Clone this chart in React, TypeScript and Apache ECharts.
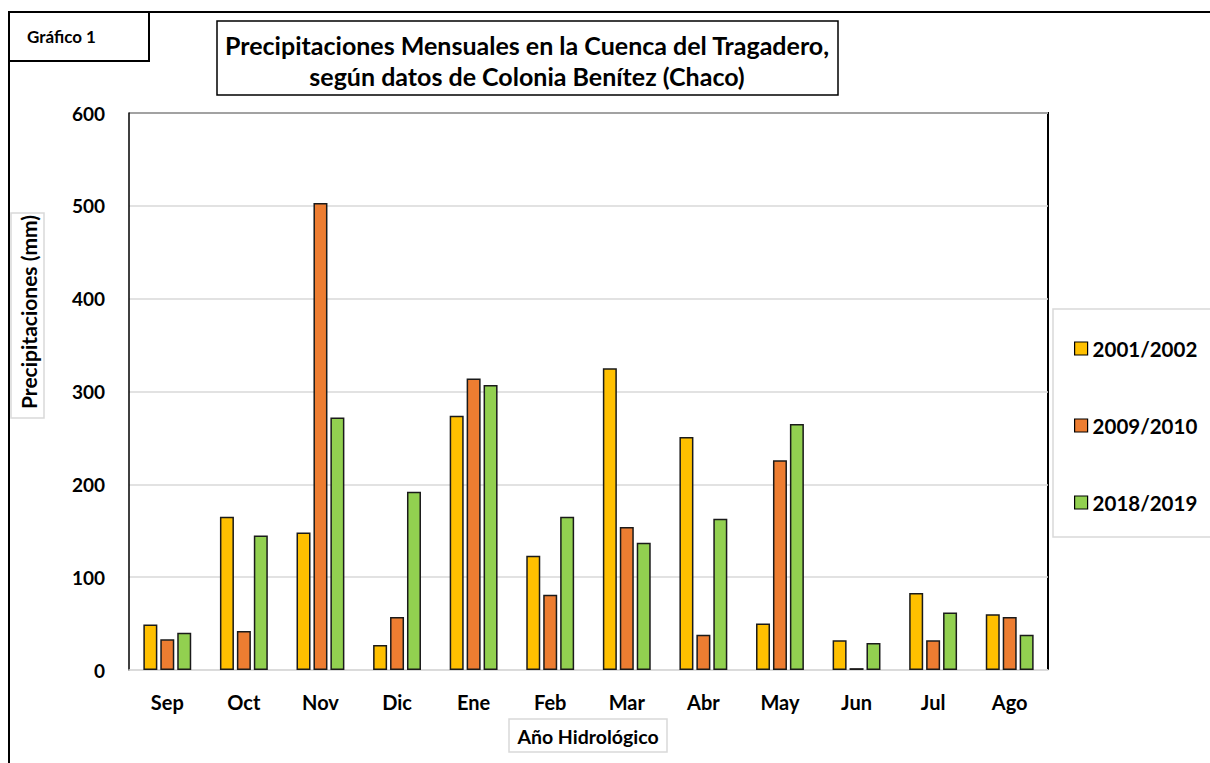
import React, { useEffect, useRef } from "react";
import * as echarts from "echarts";

const months = ["Sep", "Oct", "Nov", "Dic", "Ene", "Feb", "Mar", "Abr", "May", "Jun", "Jul", "Ago"];
const seriesNames = ["2001/2002", "2009/2010", "2018/2019"];
const s2001 = [49, 165, 148, 27, 274, 123, 325, 251, 50, 32, 83, 60];
const s2009 = [33, 42, 503, 57, 314, 81, 154, 38, 226, 2, 32, 57];
const s2018 = [40, 145, 272, 192, 307, 165, 137, 163, 265, 29, 62, 38];
const colors = ["#FFC000", "#ED7D31", "#92D050"];
const yTicks = { min: 0, max: 600, interval: 100 };

const FONT = "Lato, 'Open Sans', sans-serif";

export default function App() {
  const ref = useRef<HTMLDivElement>(null);
  useEffect(() => {
    if (!ref.current) return;
    const chart = echarts.init(ref.current, null, { renderer: "svg" });
    const data = [s2001, s2009, s2018];
    chart.setOption({
      animation: false,
      backgroundColor: "#ffffff",
      textStyle: { fontFamily: FONT },
      grid: { left: 129, top: 113, right: 162, bottom: 93, containLabel: false },
      legend: {
        orient: "vertical",
        left: 1069,
        top: 333,
        itemWidth: 13,
        itemHeight: 13,
        itemGap: 56,
        icon: "rect",
        data: seriesNames,
        textStyle: { fontFamily: FONT, fontWeight: "bold", fontSize: 20.5, color: "#000", lineHeight: 20 },
        itemStyle: { borderColor: "#000", borderWidth: 1.2 },
      },
      xAxis: {
        type: "category",
        data: months,
        axisLine: { show: true, lineStyle: { color: "#d9d9d9", width: 1.5 } },
        axisTick: { show: false },
        axisLabel: { fontFamily: FONT, fontWeight: "bold", fontSize: 20, color: "#000", margin: 22 },
      },
      yAxis: {
        type: "value",
        min: yTicks.min,
        max: yTicks.max,
        interval: yTicks.interval,
        axisLine: { show: true, lineStyle: { color: "#000", width: 1.5 } },
        axisTick: { show: false },
        splitLine: { lineStyle: { color: "#d9d9d9", width: 1.5 } },
        axisLabel: { fontFamily: FONT, fontWeight: "bold", fontSize: 19, color: "#000", margin: 24 },
      },
      series: seriesNames.map((name, i) => ({
        name,
        type: "bar",
        data: data[i],
        barWidth: 14,
        barGap: "21%",
        itemStyle: { color: colors[i], borderColor: "#1a1a1a", borderWidth: 1.5 },
      })),
      graphic: [
        { type: "line", shape: { x1: 8, y1: 12, x2: 1210, y2: 12 }, style: { stroke: "#000", lineWidth: 2 } },
        { type: "line", shape: { x1: 9, y1: 12, x2: 9, y2: 763 }, style: { stroke: "#000", lineWidth: 2 } },
        { type: "rect", shape: { x: 9, y: 12, width: 140, height: 49 }, style: { fill: "none", stroke: "#000", lineWidth: 2 } },
        { type: "text", x: 27, y: 36, style: { text: "Gráfico 1", font: `bold 17px ${FONT}`, fill: "#000", verticalAlign: "middle" } },
        { type: "rect", shape: { x: 217, y: 21, width: 621, height: 74 }, style: { fill: "#fff", stroke: "#000", lineWidth: 1.5 } },
        { type: "text", x: 527, y: 45, style: { text: "Precipitaciones Mensuales en la Cuenca del Tragadero,", font: `bold 25px ${FONT}`, fill: "#000", align: "center", verticalAlign: "middle" } },
        { type: "text", x: 527, y: 76, style: { text: "según datos de Colonia Benítez (Chaco)", font: `bold 25px ${FONT}`, fill: "#000", align: "center", verticalAlign: "middle" } },
        { type: "polyline", shape: { points: [[129, 113], [1048, 113], [1048, 670]] }, style: { stroke: "#000", lineWidth: 2, fill: "none" } },
        { type: "rect", shape: { x: 1053, y: 309, width: 170, height: 228 }, style: { fill: "none", stroke: "#d9d9d9", lineWidth: 1.5 } },
        { type: "rect", shape: { x: 11, y: 213, width: 33, height: 205 }, style: { fill: "none", stroke: "#d9d9d9", lineWidth: 1.5 } },
        { type: "text", x: 28, y: 312, rotation: Math.PI / 2, style: { text: "Precipitaciones (mm)", font: `bold 21px ${FONT}`, fill: "#000", align: "center", verticalAlign: "middle" } },
        { type: "rect", shape: { x: 509, y: 719, width: 158, height: 33 }, style: { fill: "none", stroke: "#d9d9d9", lineWidth: 1.5 } },
        { type: "text", x: 588, y: 736, style: { text: "Año Hidrológico", font: `bold 19.5px ${FONT}`, fill: "#000", align: "center", verticalAlign: "middle" } },
      ],
    });
    return () => chart.dispose();
  }, []);
  return <div ref={ref} style={{ position: "fixed", left: 0, top: 0, width: 1210, height: 763 }} />;
}
